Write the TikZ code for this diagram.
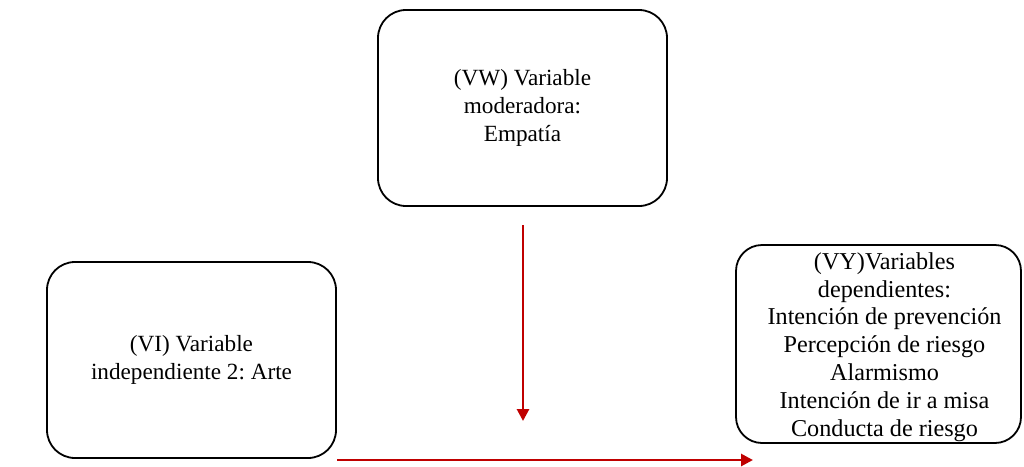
\documentclass[tikz,border=0pt]{standalone}
\usepackage{fontspec}
\setmainfont{Liberation Serif}
\frenchspacing
\usetikzlibrary{arrows.meta}
\definecolor{arrowred}{RGB}{192,0,0}
\begin{document}
\begin{tikzpicture}[x=1pt,y=-1pt,
  varbox/.style={draw=black, line width=1.8pt, rounded corners=28pt, align=center,
    font=\fontsize{23.2}{27.7}\selectfont, inner sep=0pt},
  vartext/.style={align=center, font=\fontsize{24.2}{27.8}\selectfont, inner sep=0pt},
  link/.style={draw=arrowred, line width=2.8pt, -{Triangle[length=12pt,width=12pt]}}]
  \useasboundingbox[fill=white] (0,0) rectangle (1024,466);
  % moderator (top)
  \node[varbox, minimum width=289pt, minimum height=196pt] (vw) at (522.5,108)
    {(VW) Variable\\moderadora:\\Empatía};
  % independent variable (left)
  \node[varbox, minimum width=289pt, minimum height=196pt] (vi) at (191.5,360)
    {(VI) Variable\\independiente 2: Arte};
  % dependent variables (right): frame and its list
  \node[varbox, rounded corners=26pt, minimum width=285pt, minimum height=198pt] (vy) at (878.5,344) {};
  \node[vartext] (vylist) at (884.5,347)
    {(VY)Variables\\dependientes:\\Intención de prevención\\Percepción de riesgo\\Alarmismo\\Intención de ir a misa\\Conducta de riesgo};
  % connectors
  \coordinate (vtop) at (523,225);
  \coordinate (vend) at (523,421);
  \coordinate (hstart) at (337,460);
  \coordinate (hend) at (753,460);
  \draw[link] (vtop) -- (vend);
  \draw[link] (hstart) -- (hend);
\end{tikzpicture}
\end{document}
